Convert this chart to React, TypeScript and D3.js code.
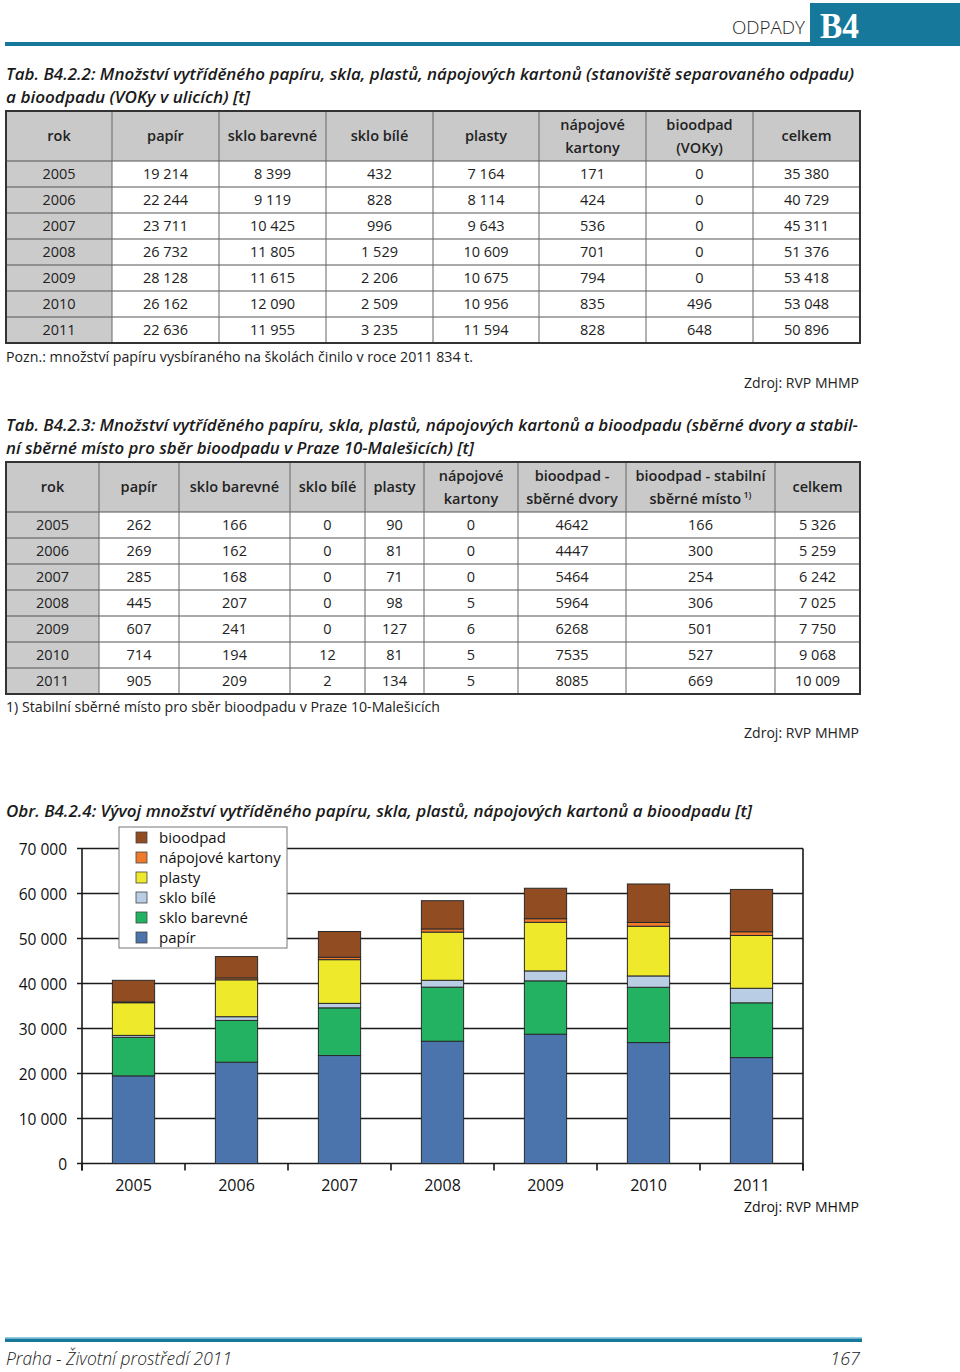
import React from 'react';
import * as d3 from 'd3';

const width = 960;
const height = 1372;

const years = ['2005', '2006', '2007', '2008', '2009', '2010', '2011'];

// Tab. B4.2.2 - stanoviště separovaného odpadu
const t1Papir = [19214, 22244, 23711, 26732, 28128, 26162, 22636];
const t1SkloBarevne = [8399, 9119, 10425, 11805, 11615, 12090, 11955];
const t1SkloBile = [432, 828, 996, 1529, 2206, 2509, 3235];
const t1Plasty = [7164, 8114, 9643, 10609, 10675, 10956, 11594];
const t1Napojove = [171, 424, 536, 701, 794, 835, 828];
const t1Bio = [0, 0, 0, 0, 0, 496, 648];
const t1Celkem = [35380, 40729, 45311, 51376, 53418, 53048, 50896];

// Tab. B4.2.3 - sběrné dvory
const t2Papir = [262, 269, 285, 445, 607, 714, 905];
const t2SkloBarevne = [166, 162, 168, 207, 241, 194, 209];
const t2SkloBile = [0, 0, 0, 0, 0, 12, 2];
const t2Plasty = [90, 81, 71, 98, 127, 81, 134];
const t2Napojove = [0, 0, 0, 5, 6, 5, 5];
const t2BioDvory = [4642, 4447, 5464, 5964, 6268, 7535, 8085];
const t2BioStab = [166, 300, 254, 306, 501, 527, 669];
const t2Celkem = [5326, 5259, 6242, 7025, 7750, 9068, 10009];

const seriesKeys = ['papír', 'sklo barevné', 'sklo bílé', 'plasty', 'nápojové kartony', 'bioodpad'];
const seriesColors = ['#4a74ab', '#22b262', '#b9cde5', '#efe92c', '#f07a2c', '#924c22'];
const yTicks = [0, 10000, 20000, 30000, 40000, 50000, 60000, 70000];

const FONT = '"Open Sans", sans-serif';
const TEAL = '#16799b';

const spaced = (n: number) => d3.format(',')(n).replace(/,/g, ' ');
const plain = (n: number) => String(n);

type Header = { lines: string[]; sup?: string };

function Table({ top, edges, headers, cols }: { top: number; edges: number[]; headers: Header[]; cols: string[][] }) {
  const headerH = 50;
  const rowH = 26;
  const nRows = cols[0].length;
  const bottom = top + headerH + nRows * rowH;
  const rowY = d3.scaleLinear().domain([0, nRows]).range([top + headerH, bottom]);
  return (
    <g fontFamily={FONT} fontSize={14.5} fill="#222">
      <rect x={edges[0]} y={top} width={edges[edges.length - 1] - edges[0]} height={headerH} fill="#c9c9c9" />
      <rect x={edges[0]} y={top + headerH} width={edges[1] - edges[0]} height={nRows * rowH} fill="#cbcbcb" />
      {d3.range(1, nRows + 1).map(i => (
        <line key={'h' + i} x1={edges[0]} x2={edges[edges.length - 1]} y1={rowY(i - 1)} y2={rowY(i - 1)} stroke="#555" strokeWidth={1.2} />
      ))}
      {edges.slice(1, -1).map((e, i) => (
        <line key={'v' + i} x1={e} x2={e} y1={top} y2={bottom} stroke="#666" strokeWidth={1} />
      ))}
      <rect x={edges[0]} y={top} width={edges[edges.length - 1] - edges[0]} height={bottom - top} fill="none" stroke="#333" strokeWidth={2} />
      {headers.map((h, i) => {
        const cx = (edges[i] + edges[i + 1]) / 2;
        const cy = top + headerH / 2;
        return h.lines.map((ln, j) => (
          <text key={i + '-' + j} x={cx} y={h.lines.length === 1 ? cy + 5 : cy - 6 + j * 23} textAnchor="middle" fontWeight={600}>
            {ln}
            {h.sup && j === h.lines.length - 1 ? <tspan fontSize={9} dy={-6}>{' ' + h.sup}</tspan> : null}
          </text>
        ));
      })}
      {cols.map((col, ci) =>
        col.map((v, ri) => (
          <text key={ci + '_' + ri} x={(edges[ci] + edges[ci + 1]) / 2} y={rowY(ri) + rowH / 2 + 5} textAnchor="middle">
            {v}
          </text>
        ))
      )}
    </g>
  );
}

function Chart() {
  const left = 82;
  const right = 803;
  const x = d3.scaleBand().domain(years).range([left, right]).paddingInner(0.59).paddingOuter(0.295);
  const y = d3.scaleLinear().domain([0, 70000]).range([1163.5, 848.5]);
  const rows = years.map((yr, i) => ({
    year: yr,
    'papír': t1Papir[i] + t2Papir[i],
    'sklo barevné': t1SkloBarevne[i] + t2SkloBarevne[i],
    'sklo bílé': t1SkloBile[i] + t2SkloBile[i],
    'plasty': t1Plasty[i] + t2Plasty[i],
    'nápojové kartony': t1Napojove[i] + t2Napojove[i],
    'bioodpad': t1Bio[i] + t2BioDvory[i] + t2BioStab[i],
  }));
  const stacked = d3.stack<any>().keys(seriesKeys)(rows);
  const step = x.step();
  const boundaries = d3.range(years.length + 1).map(i => left + i * step);

  return (
    <g fontFamily={FONT}>
      {yTicks.map(t => (
        <g key={t}>
          <line x1={left - 5} x2={right} y1={y(t)} y2={y(t)} stroke="#1a1a1a" strokeWidth={1.6} />
          <text x={67} y={y(t) + 6} textAnchor="end" fontSize={15.5} fill="#111">{spaced(t)}</text>
        </g>
      ))}
      <line x1={left} x2={left} y1={y(70000)} y2={y(0) + 7} stroke="#1a1a1a" strokeWidth={1.6} />
      <line x1={right} x2={right} y1={y(70000)} y2={y(0) + 7} stroke="#1a1a1a" strokeWidth={1.6} />
      {boundaries.map((b, i) => (
        <line key={i} x1={b} x2={b} y1={y(0)} y2={y(0) + 7} stroke="#1a1a1a" strokeWidth={1.6} />
      ))}
      {stacked.map((s, si) => (
        <g key={s.key} fill={seriesColors[si]}>
          {s.map((d: any) => (
            <rect key={d.data.year} x={x(d.data.year)} y={y(d[1])} width={x.bandwidth()} height={y(d[0]) - y(d[1])} stroke="#2a2a2a" strokeWidth={1} />
          ))}
        </g>
      ))}
      {years.map(yr => (
        <text key={yr} x={(x(yr) as number) + x.bandwidth() / 2} y={1191} textAnchor="middle" fontSize={16} fill="#111">{yr}</text>
      ))}
      <rect x={119} y={827} width={168} height={121} fill="#fff" stroke="#777" strokeWidth={1} />
      {seriesKeys.slice().reverse().map((k, i) => (
        <g key={k}>
          <rect x={136} y={832 + i * 20} width={11} height={11} fill={seriesColors[seriesKeys.length - 1 - i]} stroke="#444" strokeWidth={0.8} />
          <text x={159} y={843 + i * 20} fontSize={15} fill="#111">{k}</text>
        </g>
      ))}
    </g>
  );
}

export default function App() {
  const edges1 = [6, 112, 219, 326, 433, 539, 646, 753, 860];
  const headers1: Header[] = [
    { lines: ['rok'] }, { lines: ['papír'] }, { lines: ['sklo barevné'] }, { lines: ['sklo bílé'] },
    { lines: ['plasty'] }, { lines: ['nápojové', 'kartony'] }, { lines: ['bioodpad', '(VOKy)'] }, { lines: ['celkem'] },
  ];
  const cols1 = [
    years, t1Papir.map(spaced), t1SkloBarevne.map(spaced), t1SkloBile.map(spaced), t1Plasty.map(spaced),
    t1Napojove.map(spaced), t1Bio.map(spaced), t1Celkem.map(spaced),
  ];
  const edges2 = [6, 99, 179, 290, 365, 424, 518, 626, 775, 860];
  const headers2: Header[] = [
    { lines: ['rok'] }, { lines: ['papír'] }, { lines: ['sklo barevné'] }, { lines: ['sklo bílé'] }, { lines: ['plasty'] },
    { lines: ['nápojové', 'kartony'] }, { lines: ['bioodpad -', 'sběrné dvory'] },
    { lines: ['bioodpad - stabilní', 'sběrné místo'], sup: '1)' }, { lines: ['celkem'] },
  ];
  const cols2 = [
    years, t2Papir.map(plain), t2SkloBarevne.map(plain), t2SkloBile.map(plain), t2Plasty.map(plain),
    t2Napojove.map(plain), t2BioDvory.map(plain), t2BioStab.map(plain), t2Celkem.map(spaced),
  ];

  const titleStyle = { fontFamily: FONT, fontStyle: 'italic', fontWeight: 600, fontSize: 16.5, fill: '#1a1a1a' } as const;
  const noteStyle = { fontFamily: FONT, fontSize: 14, fill: '#222' } as const;

  return (
    <svg width={width} height={height} style={{ position: 'absolute', left: 0, top: 0, background: '#fff' }}>
      {/* page header */}
      <rect x={5} y={42} width={810} height={4} fill={TEAL} />
      <rect x={810} y={3} width={150} height={43} fill={TEAL} />
      <text x={805} y={34} textAnchor="end" fontFamily={FONT} fontSize={18} fontWeight={300} fill="#222" textLength={73} lengthAdjust="spacingAndGlyphs">ODPADY</text>
      <text x={820} y={38} fontFamily='"Liberation Serif", serif' fontWeight={700} fontSize={35} fill="#fff" textLength={39} lengthAdjust="spacingAndGlyphs">B4</text>

      <text x={6} y={80} {...titleStyle} textLength={848} lengthAdjust="spacingAndGlyphs">Tab. B4.2.2: Množství vytříděného papíru, skla, plastů, nápojových kartonů (stanoviště separovaného odpadu)</text>
      <text x={6} y={103} {...titleStyle} textLength={244} lengthAdjust="spacingAndGlyphs">a bioodpadu (VOKy v ulicích) [t]</text>
      <Table top={111} edges={edges1} headers={headers1} cols={cols1} />
      <text x={6} y={362} {...noteStyle} textLength={467} lengthAdjust="spacingAndGlyphs">Pozn.: množství papíru vysbíraného na školách činilo v roce 2011 834 t.</text>
      <text x={859} y={388} textAnchor="end" {...noteStyle} textLength={115} lengthAdjust="spacingAndGlyphs">Zdroj: RVP MHMP</text>

      <text x={6} y={431} {...titleStyle} textLength={852} lengthAdjust="spacingAndGlyphs">Tab. B4.2.3: Množství vytříděného papíru, skla, plastů, nápojových kartonů a bioodpadu (sběrné dvory a stabil-</text>
      <text x={6} y={454} {...titleStyle} textLength={468} lengthAdjust="spacingAndGlyphs">ní sběrné místo pro sběr bioodpadu v Praze 10-Malešicích) [t]</text>
      <Table top={462} edges={edges2} headers={headers2} cols={cols2} />
      <text x={6} y={712} {...noteStyle} textLength={434} lengthAdjust="spacingAndGlyphs">1) Stabilní sběrné místo pro sběr bioodpadu v Praze 10-Malešicích</text>
      <text x={859} y={738} textAnchor="end" {...noteStyle} textLength={115} lengthAdjust="spacingAndGlyphs">Zdroj: RVP MHMP</text>

      <text x={6} y={817} {...titleStyle} textLength={746} lengthAdjust="spacingAndGlyphs">Obr. B4.2.4: Vývoj množství vytříděného papíru, skla, plastů, nápojových kartonů a bioodpadu [t]</text>
      <Chart />
      <text x={859} y={1212} textAnchor="end" fontFamily={FONT} fontSize={14.5} fill="#111" textLength={115} lengthAdjust="spacingAndGlyphs">Zdroj: RVP MHMP</text>

      {/* page footer */}
      <rect x={5} y={1337} width={857} height={1.5} fill="#8fd0e4" />
      <rect x={5} y={1338.5} width={857} height={3.5} fill={TEAL} />
      <text x={6} y={1365} fontFamily={FONT} fontStyle="italic" fontSize={18} fontWeight={300} fill="#222" textLength={226} lengthAdjust="spacingAndGlyphs">Praha - Životní prostředí 2011</text>
      <text x={860} y={1365} textAnchor="end" fontFamily={FONT} fontStyle="italic" fontSize={18} fontWeight={300} fill="#222">167</text>
    </svg>
  );
}
